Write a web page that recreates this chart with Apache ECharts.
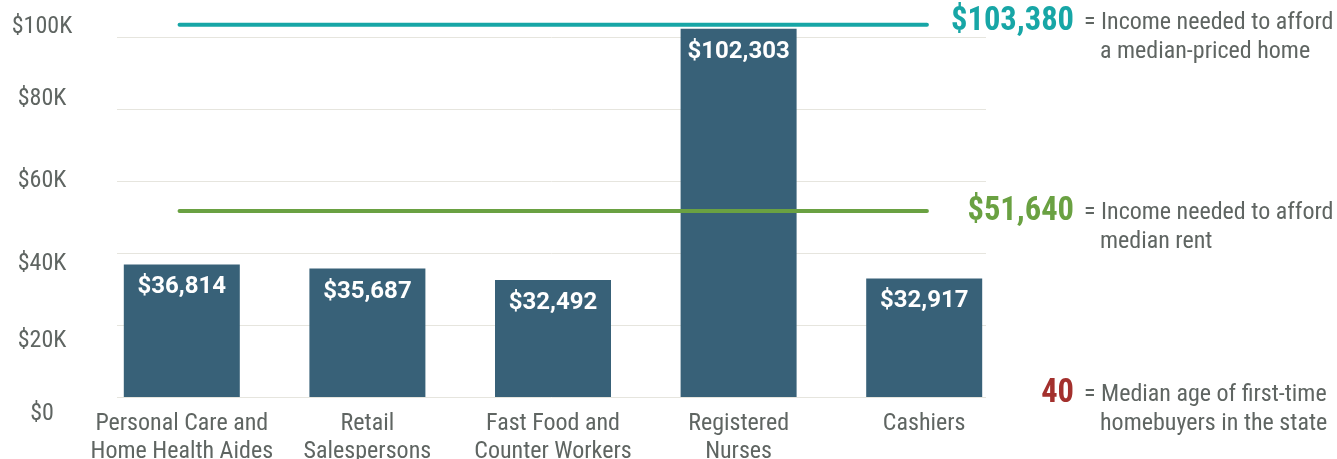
<!DOCTYPE html>
<html>
<head>
<meta charset="utf-8">
<script src="https://cdn.jsdelivr.net/npm/echarts@6/dist/echarts.min.js"></script>
<style>
html,body{margin:0;padding:0;background:#fff;}
#chart{width:1337px;height:459px;}
</style>
</head>
<body>
<div id="chart"></div>
<script>
// ---- data ----
const categories = ['Personal Care and\nHome Health Aides', 'Retail\nSalespersons', 'Fast Food and\nCounter Workers', 'Registered\nNurses', 'Cashiers'];
const wages = [36814, 35687, 32492, 102303, 32917];
const homeIncome = 103380;
const rentIncome = 51640;
const medianAge = 40;
const yTicks = [0, 20000, 40000, 60000, 80000, 100000];
const yTickLabels = ['$0', '$20K', '$40K', '$60K', '$80K', '$100K'];
const refLineSpan = [0.36, 4.66]; // in gridline-width units (0..5)
const noteTexts = [
  ['= Income needed to afford', 'a median-priced home'],
  ['= Income needed to afford', 'median rent'],
  ['= Median age of first-time', 'homebuyers in the state']
];

// ---- styles ----
const FONT = "'Roboto Condensed', Roboto, sans-serif";
const GRAY = '#5f6562';
const BAR = '#386178';
const TEAL = '#17a6a6';
const GREEN = '#6aa142';
const RED = '#a3302d';
const labelShift = [17, 16, 11, 0, -10, -10];

const rich = {};
labelShift.forEach((s, i) => {
  rich['s' + i] = {
    fontFamily: FONT, fontSize: 24, color: GRAY,
    padding: s >= 0 ? [2 * s, 0, 0, 0] : [0, 0, -2 * s, 0]
  };
});

const fmtMoney = v => '$' + v.toLocaleString('en-US');
const bigTexts = [fmtMoney(homeIncome), fmtMoney(rentIncome), String(medianAge)];

const chart = echarts.init(document.getElementById('chart'), null, {renderer: 'canvas'});

const noteColors = [TEAL, GREEN, RED];
const noteY = [22, 212, 394];
const graphics = [];
bigTexts.forEach((t, i) => {
  graphics.push({
    type: 'text', x: 1074, y: noteY[i],
    style: {text: t, font: 'bold 32.5px ' + FONT, fill: noteColors[i], align: 'right', verticalAlign: 'middle'}
  });
  graphics.push({
    type: 'text', x: 1084, y: noteY[i] + 1,
    style: {text: noteTexts[i][0], font: '24px ' + FONT, fill: GRAY, align: 'left', verticalAlign: 'middle'}
  });
  graphics.push({
    type: 'text', x: 1100, y: noteY[i] + 30,
    style: {text: noteTexts[i][1], font: '24px ' + FONT, fill: GRAY, align: 'left', verticalAlign: 'middle'}
  });
});

chart.setOption({
  animation: false,
  grid: [
    {left: 117, right: 351, top: 37, bottom: 62, outerBoundsMode: 'none', containLabel: false},
    {left: 89, right: 320, top: 37, bottom: 62, outerBoundsMode: 'none', containLabel: false}
  ],
  xAxis: [{
    gridIndex: 0, type: 'value', min: 0, max: 5, show: false
  }, {
    gridIndex: 1, type: 'category', data: categories,
    axisLine: {show: false}, axisTick: {show: false},
    axisLabel: {fontFamily: FONT, fontSize: 24, color: GRAY, lineHeight: 28, margin: 13, interval: 0}
  }],
  yAxis: [{
    gridIndex: 0, type: 'value', min: 0, max: 100000, interval: 20000,
    axisLine: {show: false}, axisTick: {show: false},
    splitLine: {lineStyle: {color: '#e6e5de', width: 1}},
    axisLabel: {
      margin: 75, align: 'center',
      formatter: v => {
        const i = yTicks.indexOf(v);
        return '{s' + i + '|' + yTickLabels[i] + '}';
      },
      rich: rich
    }
  }, {
    gridIndex: 1, type: 'value', min: 0, max: 100000, interval: 20000, show: false,
    splitLine: {show: false}
  }],
  series: [{
    type: 'bar', xAxisIndex: 1, yAxisIndex: 1, data: wages, barWidth: '62.5%', clip: false,
    itemStyle: {color: BAR},
    label: {
      show: true, position: 'insideTop', distance: 11,
      formatter: p => fmtMoney(p.value),
      fontFamily: 'Roboto, sans-serif', fontWeight: 'bold', fontSize: 24, color: '#fff'
    }
  }, {
    type: 'line', xAxisIndex: 0, yAxisIndex: 0, clip: false, symbol: 'none', silent: true,
    data: [[refLineSpan[0], homeIncome], [refLineSpan[1], homeIncome]],
    lineStyle: {color: TEAL, width: 4, cap: 'round'}
  }, {
    type: 'line', xAxisIndex: 0, yAxisIndex: 0, clip: false, symbol: 'none', silent: true,
    data: [[refLineSpan[0], rentIncome], [refLineSpan[1], rentIncome]],
    lineStyle: {color: GREEN, width: 4, cap: 'round'}
  }],
  graphic: graphics
});
</script>
</body>
</html>
